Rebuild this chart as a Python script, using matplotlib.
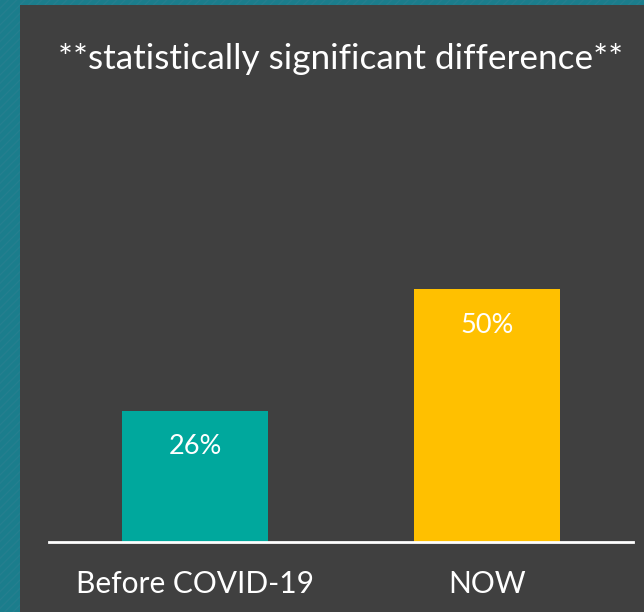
import matplotlib
matplotlib.use("Agg")
import matplotlib.pyplot as plt
from matplotlib.patches import Rectangle

categories = ["Before COVID-19", "NOW"]
values = [26, 50]
labels = ["26%", "50%"]
colors = ["#00a89d", "#ffc000"]
title = "**statistically significant difference**"

plt.rcParams['font.family'] = ['Lato', 'DejaVu Sans']

fig = plt.figure(figsize=(6.44, 6.12), dpi=100)
fig.patch.set_facecolor("#1b7d8c")
W, H = 644, 612
# hatched teal border
bg = Rectangle((0, 0), 1, 1, transform=fig.transFigure, facecolor="#1b7d8c",
               edgecolor="#257f8f", hatch="////", linewidth=0, zorder=-3)
fig.patches.append(bg)
panel = Rectangle((20 / W, 0), 1 - 20 / W, 1 - 5 / H, transform=fig.transFigure,
                  facecolor="#404040", edgecolor="none", zorder=-2)
fig.patches.append(panel)

ax = fig.add_axes([49 / W, (H - 542) / H, 584 / W, 500 / H])
ax.set_facecolor("none")
x = list(range(len(categories)))
bars = ax.bar(x, values, width=0.503, color=colors, zorder=2)
ax.set_xlim(-0.5, 1.5)
ax.set_ylim(0, 99)
for s in ["top", "right", "left"]:
    ax.spines[s].set_visible(False)
ax.spines["bottom"].set_color("#ffffff")
ax.spines["bottom"].set_linewidth(2)
ax.set_yticks([])
ax.set_xticks(x)
ax.set_xticklabels(categories, color="white", fontsize=21.5)
ax.tick_params(axis="x", length=0, pad=20)
for xi, v, lab in zip(x, values, labels):
    ax.annotate(lab, (xi, v), xytext=(0, -36), textcoords="offset pixels",
                ha="center", va="center", color="white", fontsize=19.5)

fig.text(341 / W, 1 - 59 / H, title, ha="center", va="center",
         color="white", fontsize=25.3)

fig.savefig("out.png", dpi=100, facecolor=fig.get_facecolor())
